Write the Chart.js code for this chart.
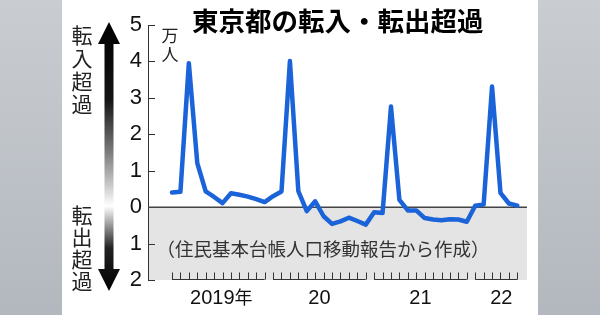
<!DOCTYPE html>
<html>
<head>
<meta charset="utf-8">
<script src="https://cdn.jsdelivr.net/npm/chart.js@4"></script>
<style>
  body { margin: 0; background: #fff; }
  #wrap { width: 600px; height: 315px; }
</style>
</head>
<body>
<div id="wrap"><canvas id="migChart" width="600" height="315"></canvas></div>
<script>
// 東京都の転入超過（万人）、月別
const years = ["2019", "2020", "2021", "2022"];
const yearLabels = ["2019年", "20", "21", "22"];
const v2019 = [0.40, 0.42, 3.95, 1.21, 0.43, 0.28, 0.11, 0.38, 0.34, 0.29, 0.22, 0.14];
const v2020 = [0.30, 0.43, 4.01, 0.44, -0.11, 0.16, -0.25, -0.46, -0.39, -0.29, -0.38, -0.48];
const v2021 = [-0.14, -0.16, 2.76, 0.20, -0.09, -0.09, -0.30, -0.34, -0.36, -0.33, -0.34, -0.40];
const v2022 = [0.04, 0.07, 3.31, 0.39, 0.10, 0.04];
const yTicks = [-2, -1, 0, 1, 2, 3, 4, 5];
const title = "東京都の転入・転出超過";
const unitLabel = "万人";
const inLabel = "転入超過";
const outLabel = "転出超過";
const sourceNote = "（住民基本台帳人口移動報告から作成）";

const yearValues = [v2019, v2020, v2021, v2022];
const values = yearValues.flat();
const points = values.map((v, i) => ({ x: i, y: v }));

const font = '"Liberation Sans", Arial, sans-serif';
const jpFont = '"Noto Sans CJK JP", sans-serif';

const decor = {
  id: "decor",
  beforeDraw(chart) {
    const ctx = chart.ctx;
    const { left, right } = chart.chartArea;
    const y = chart.scales.y;
    ctx.save();
    // 両側のグレー
    const g = ctx.createLinearGradient(0, 0, 0, 315);
    g.addColorStop(0, "#c9cdd2");
    g.addColorStop(1, "#b3b8be");
    ctx.fillStyle = g;
    ctx.fillRect(0, 0, 62, 315);
    ctx.fillRect(538, 0, 62, 315);
    ctx.fillStyle = "#fff";
    ctx.fillRect(62, 0, 476, 315);
    // 転出超過側の背景
    const z = y.getPixelForValue(0);
    const b = y.getPixelForValue(-2);
    ctx.fillStyle = "#e4e4e4";
    ctx.fillRect(left, z, right - left, b - z);
    ctx.restore();
  },
  beforeDatasetsDraw(chart) {
    const ctx = chart.ctx;
    const { left, right, bottom } = chart.chartArea;
    const x = chart.scales.x;
    const y = chart.scales.y;
    ctx.save();
    ctx.strokeStyle = "#333";
    ctx.lineWidth = 1;
    // 目盛り（内向き）
    yTicks.forEach((t) => {
      const py = Math.round(y.getPixelForValue(t)) + 0.5;
      ctx.beginPath();
      ctx.moveTo(left, py);
      ctx.lineTo(left + 7, py);
      ctx.stroke();
    });
    // 0の線
    const z = y.getPixelForValue(0);
    ctx.strokeStyle = "#444";
    ctx.lineWidth = 1.5;
    ctx.beginPath();
    ctx.moveTo(left, z);
    ctx.lineTo(right, z);
    ctx.stroke();
    // 年ごとの横軸
    ctx.strokeStyle = "#333";
    ctx.lineWidth = 1;
    let start = 0;
    yearValues.forEach((arr) => {
      const x0 = x.getPixelForValue(start);
      const x1 = x.getPixelForValue(start + arr.length - 1);
      const by = bottom - 0.5;
      ctx.beginPath();
      ctx.moveTo(x0, by);
      ctx.lineTo(x1, by);
      for (let i = 0; i < arr.length; i++) {
        const px = Math.round(x.getPixelForValue(start + i)) + 0.5;
        ctx.moveTo(px, by);
        ctx.lineTo(px, by - 7);
      }
      ctx.stroke();
      start += arr.length;
    });
    ctx.restore();
  },
  afterDraw(chart) {
    const ctx = chart.ctx;
    const { bottom } = chart.chartArea;
    const x = chart.scales.x;
    const y = chart.scales.y;
    ctx.save();
    // 年ラベル
    ctx.fillStyle = "#111";
    ctx.textAlign = "center";
    ctx.textBaseline = "middle";
    let start = 0;
    yearValues.forEach((arr, k) => {
      const cx = x.getPixelForValue(start + (arr.length - 1) / 2);
      ctx.font = "20px " + font;
      if (yearLabels[k].endsWith("年")) {
        const num = yearLabels[k].slice(0, -1);
        const w1 = ctx.measureText(num).width;
        ctx.font = "18px " + jpFont;
        const w2 = ctx.measureText("年").width;
        const sx = cx - (w1 + w2) / 2 + 3;
        ctx.textAlign = "left";
        ctx.font = "20px " + font;
        ctx.fillText(num, sx, bottom + 18);
        ctx.font = "18px " + jpFont;
        ctx.fillText("年", sx + w1, bottom + 17);
        ctx.textAlign = "center";
      } else {
        ctx.fillText(yearLabels[k], cx + (k === yearValues.length - 1 ? 5 : 0), bottom + 18);
      }
      start += arr.length;
    });
    // タイトル
    ctx.font = "bold 26.5px " + jpFont;
    ctx.textAlign = "left";
    ctx.fillStyle = "#000";
    ctx.fillText(title, 192, 21);
    // 単位
    ctx.font = "17px " + jpFont;
    ctx.textAlign = "center";
    ctx.fillStyle = "#222";
    ctx.fillText(unitLabel[0], 170, 36);
    ctx.fillText(unitLabel[1], 170, 55);
    // 出典
    ctx.font = "18.5px " + jpFont;
    ctx.fillStyle = "#333";
    ctx.fillText(sourceNote, 323, y.getPixelForValue(-1.15));
    // 縦書きラベル
    ctx.font = "21px " + jpFont;
    ctx.fillStyle = "#222";
    [...inLabel].forEach((c, i) => ctx.fillText(c, 82, 35 + i * 23));
    [...outLabel].forEach((c, i) => ctx.fillText(c, 82, 215 + i * 22));
    // 矢印
    const top = 22, bot = 291;
    const ag = ctx.createLinearGradient(0, top, 0, bot);
    ag.addColorStop(0, "#000");
    ag.addColorStop(0.29, "#151515");
    ag.addColorStop(0.476, "#777");
    ag.addColorStop(0.606, "#c8c8c8");
    ag.addColorStop(0.684, "#fff");
    ag.addColorStop(0.755, "#999");
    ag.addColorStop(0.84, "#222");
    ag.addColorStop(1, "#000");
    ctx.fillStyle = ag;
    ctx.beginPath();
    ctx.moveTo(109, top);
    ctx.lineTo(120, 44);
    ctx.lineTo(113.5, 44);
    ctx.lineTo(113.5, 269);
    ctx.lineTo(120, 269);
    ctx.lineTo(109, bot);
    ctx.lineTo(98, 269);
    ctx.lineTo(104.5, 269);
    ctx.lineTo(104.5, 44);
    ctx.lineTo(98, 44);
    ctx.closePath();
    ctx.fill();
    ctx.restore();
  },
};

const migChart = new Chart(document.getElementById("migChart"), {
  type: "line",
  data: {
    datasets: [
      {
        label: "転入超過",
        data: points,
        borderColor: "#1b63d8",
        borderWidth: 4.5,
        pointRadius: 0,
        tension: 0,
        borderJoinStyle: "round",
        borderCapStyle: "round",
      },
    ],
  },
  options: {
    responsive: false,
    animation: false,
    layout: { padding: { left: 62, right: 73, top: 25, bottom: 35 } },
    plugins: { legend: { display: false }, tooltip: { enabled: false } },
    scales: {
      x: { type: "linear", min: -2.85, max: 42.15, display: false },
      y: {
        min: -2,
        max: 5,
        afterFit: (scale) => { scale.width = 86; },
        afterBuildTicks: (scale) => { scale.ticks = yTicks.map((v) => ({ value: v })); },
        grid: { drawOnChartArea: false, drawTicks: false, tickLength: 0 },
        border: { display: true, color: "#333", width: 1 },
        ticks: {
          padding: 6,
          color: "#111",
          font: { family: font, size: 22 },
          callback: (v) => Math.abs(v),
        },
      },
    },
  },
  plugins: [decor],
});
</script>
</body>
</html>
